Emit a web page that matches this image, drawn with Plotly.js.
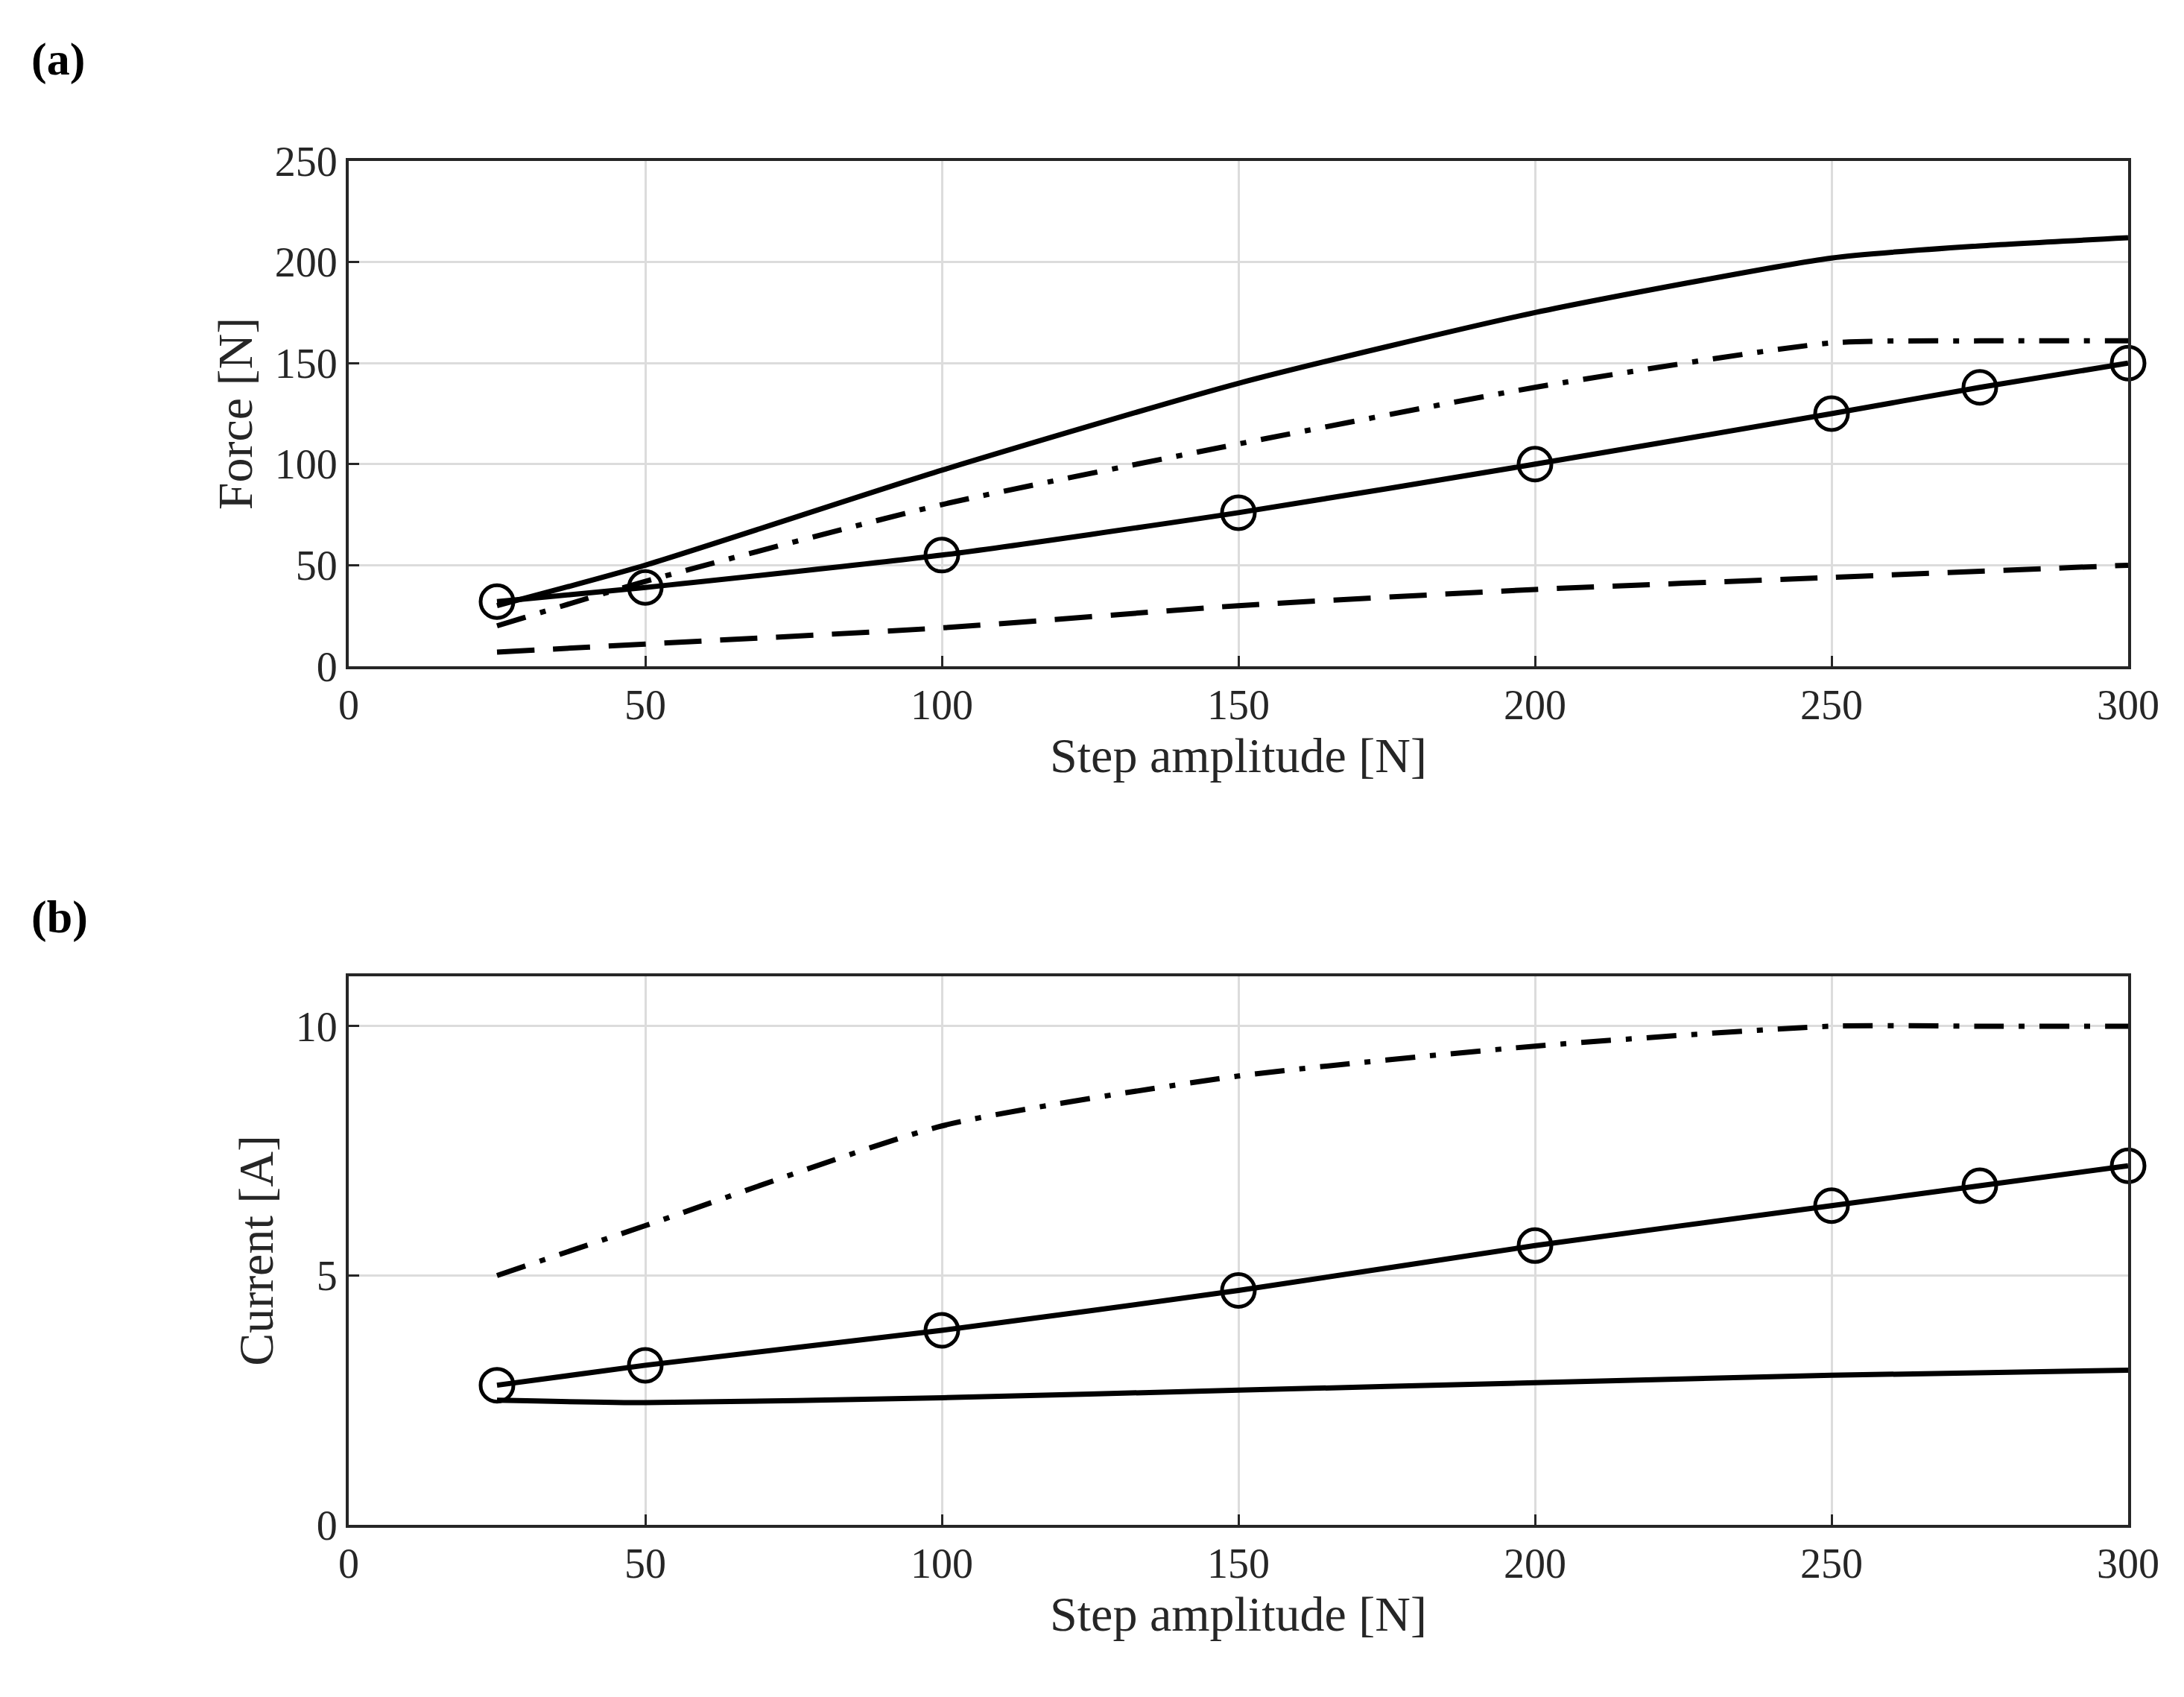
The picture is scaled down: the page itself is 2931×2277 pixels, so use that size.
<!DOCTYPE html>
<html><head><meta charset="utf-8">
<script src="https://cdn.plot.ly/plotly-3.0.1.min.js"></script>
<style>html,body{margin:0;background:#fff}#c{width:2931px;height:2277px}</style>
</head><body><div id="c"></div>
<script>
// panel (a): force
const xA = [25, 50, 100, 150, 200, 250, 275, 300];
const forceUpper = [30, 50, 97, 140, 175, 202, 208, 212];
const forceDashDot = [20, 42, 80, 110, 138, 160, 161, 161];
const forceCircle = [32, 39, 55, 76, 100, 125, 138, 150];
const xDash = [25, 50, 100, 150, 200, 250, 300];
const forceDash = [7, 11, 19, 30, 38, 44, 50];
// panel (b): current
const xB = [25, 50, 100, 150, 200, 250, 275, 300];
const currDashDot = [5, 6, 8, 9, 9.6, 10, 10, 10];
const currCircle = [2.8, 3.2, 3.9, 4.7, 5.6, 6.4, 6.8, 7.2];
const xLow = [25, 50, 100, 150, 200, 250, 300];
const currLow = [2.5, 2.45, 2.55, 2.7, 2.85, 3.0, 3.1];

const FONT = 'Liberation Serif, Times New Roman, serif';
const line = (x, y, dash, ax, marker) => {
  const t = {
    type: 'scatter', x, y, xaxis: ax[0], yaxis: ax[1],
    mode: marker ? 'lines+markers' : 'lines',
    line: { color: '#000', width: 7, dash: dash, shape: 'spline', smoothing: 0.6 },
    showlegend: false, cliponaxis: false,
  };
  if (marker) t.marker = { symbol: 'circle-open', size: 44, color: '#000', line: { width: 5, color: '#000' } };
  return t;
};
const traces = [
  line(xA, forceUpper, 'solid', ['x', 'y']),
  line(xA, forceDashDot, '40px,20px,8px,20px', ['x', 'y']),
  line(xA, forceCircle, 'solid', ['x', 'y'], true),
  line(xDash, forceDash, '50px,25px', ['x', 'y']),
  line(xB, currDashDot, '40px,20px,8px,20px', ['x2', 'y2']),
  line(xB, currCircle, 'solid', ['x2', 'y2'], true),
  line(xLow, currLow, 'solid', ['x2', 'y2']),
];
const W = 2931, H = 2277;
const axisBase = {
  showline: true, mirror: true, linecolor: '#262626', linewidth: 4,
  gridcolor: '#dcdcdc', gridwidth: 3, zeroline: false,
  ticks: 'inside', ticklen: 14, tickwidth: 3, tickcolor: '#262626',
  tickfont: { size: 56, color: '#262626' },
};
const xax = (dom, anchor) => Object.assign({}, axisBase, {
  domain: dom, anchor, range: [0, 300], dtick: 50,
  title: { text: 'Step amplitude [N]', font: { size: 66, color: '#262626' }, standoff: 10 },
});
const left = 468 / W, right = 2856 / W;
const layout = {
  width: W, height: H, paper_bgcolor: '#fff', plot_bgcolor: '#fff',
  font: { family: FONT, color: '#262626' },
  margin: { l: 0, r: 0, t: 0, b: 0 },
  xaxis: xax([left, right], 'y'),
  yaxis: Object.assign({}, axisBase, {
    domain: [1 - 894 / H, 1 - 216 / H], anchor: 'x', range: [0, 250], dtick: 50,
    title: { text: 'Force [N]', font: { size: 66, color: '#262626' }, standoff: 10 },
  }),
  xaxis2: xax([left, right], 'y2'),
  yaxis2: Object.assign({}, axisBase, {
    domain: [1 - 2046 / H, 1 - 1310 / H], anchor: 'x2', range: [0, 11], tickvals: [0, 5, 10],
    title: { text: 'Current [A]', font: { size: 66, color: '#262626' }, standoff: 10 },
  }),
  annotations: [
    { text: '<b>(a)</b>', xref: 'paper', yref: 'paper', x: 40 / W, y: 1 - 80 / H, xanchor: 'left', yanchor: 'middle', showarrow: false, font: { size: 62, color: '#000' } },
    { text: '<b>(b)</b>', xref: 'paper', yref: 'paper', x: 40 / W, y: 1 - 1230 / H, xanchor: 'left', yanchor: 'middle', showarrow: false, font: { size: 62, color: '#000' } },
  ],
};
Plotly.newPlot('c', traces, layout, { staticPlot: true });
</script></body></html>
